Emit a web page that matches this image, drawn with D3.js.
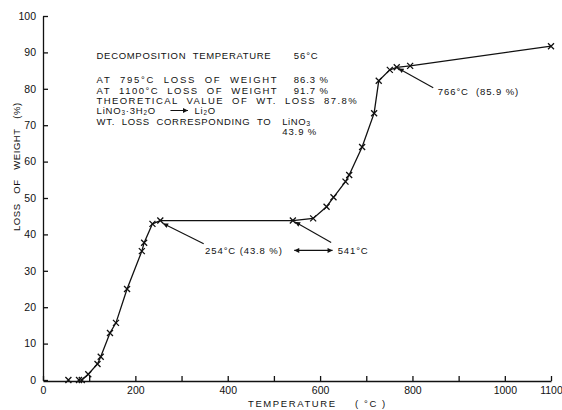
<!DOCTYPE html>
<html>
<head>
<meta charset="utf-8">
<script src="https://cdn.jsdelivr.net/npm/d3@7"></script>
<style>
  body { margin: 0; background: #fff; }
  svg { display: block; font-family: "Liberation Sans", Arial, sans-serif; }
  .axis path, .axis line { stroke: #111; stroke-width: 1.3; }
  .axis text { font-size: 10.5px; fill: #111; }
  .note { font-size: 9.5px; fill: #111; letter-spacing: 0.9px; white-space: pre; }
</style>
</head>
<body>
<div id="chart"></div>
<script>
// temperature (deg C) and loss of weight (%)
var temps = [55, 78, 84, 98, 118, 125, 145, 158, 182, 214, 219, 237, 254, 541, 585, 614, 629, 655, 663, 691, 717, 727, 751, 766, 795, 1100];
var losses = [0, 0, 0, 1.6, 4.4, 6.4, 12.9, 15.7, 25.0, 35.4, 37.7, 42.9, 43.8, 43.8, 44.4, 47.6, 50.2, 54.5, 56.3, 64.0, 73.3, 82.2, 85.2, 85.9, 86.3, 91.7];

var xTicks = [0, 100, 200, 300, 400, 500, 600, 700, 800, 900, 1000, 1100];
var xLabels = [0, 200, 400, 600, 800, 1000, 1100];
var yTicks = [0, 10, 20, 30, 40, 50, 60, 70, 80, 90, 100];

var noteLines = [
    "DECOMPOSITION  TEMPERATURE",
    "AT  795\u00B0C  LOSS  OF  WEIGHT",
    "AT  1100\u00B0C  LOSS  OF  WEIGHT",
    "THEORETICAL  VALUE  OF  WT.  LOSS  87.8%",
    "",
    "WT.  LOSS  CORRESPONDING  TO"
];
var noteWidths = [175, 181, 181, 261, 0, 175];
var noteValues = ["56\u00B0C", "86.3 %", "91.7 %"];

var width = 562, height = 410;
var margin = {top: 16, right: 11, bottom: 30, left: 43};

var svg = d3.select("#chart")
    .append("svg")
    .attr("width", width)
    .attr("height", height);

svg.append("rect").attr("width", width).attr("height", height).attr("fill", "#fff");

var x = d3.scaleLinear()
    .domain([0, 1100])
    .range([margin.left, width - margin.right]);

var y = d3.scaleLinear()
    .domain([0, 100])
    .range([height - margin.bottom, margin.top]);

var xAxis = svg.append("g")
    .attr("class", "axis")
    .attr("transform", `translate(0,${y(0) + 1})`)
    .call(d3.axisBottom(x)
        .tickValues(xTicks)
        .tickSizeInner(-5)
        .tickSizeOuter(0)
        .tickPadding(6)
        .tickFormat(d => xLabels.indexOf(d) >= 0 ? d : ""));

var yAxis = svg.append("g")
    .attr("class", "axis")
    .attr("transform", `translate(${margin.left},0)`)
    .call(d3.axisLeft(y)
        .tickValues(yTicks)
        .tickSizeInner(-5)
        .tickSizeOuter(0)
        .tickPadding(7));

// axis titles
svg.append("text")
    .attr("class", "note")
    .attr("x", 248)
    .attr("y", 407)
    .style("letter-spacing", "1.6px")
    .text("TEMPERATURE");
svg.append("text")
    .attr("class", "note")
    .attr("x", 355)
    .attr("y", 407)
    .style("letter-spacing", "1.6px")
    .text("( \u00B0C )");

svg.append("text")
    .attr("class", "note")
    .attr("transform", "translate(20,231) rotate(-90)")
    .attr("textLength", 129)
    .attr("lengthAdjust", "spacing")
    .text("LOSS   OF   WEIGHT   (%)");

// curve and markers
var pts = temps.map((t, i) => [t, losses[i]]);

var line = d3.line()
    .x(d => x(d[0]))
    .y(d => y(d[1]));

svg.append("path")
    .datum(pts.slice(2))
    .attr("fill", "none")
    .attr("stroke", "#111")
    .attr("stroke-width", 1.3)
    .attr("d", line);

svg.selectAll(".mark")
    .data(pts)
    .enter().append("path")
    .attr("class", "mark")
    .attr("transform", d => `translate(${x(d[0])},${y(d[1])})`)
    .attr("d", "M-3,-3L3,3M-3,3L3,-3")
    .attr("stroke", "#111")
    .attr("stroke-width", 1.3);

// arrowheads
var defs = svg.append("defs");
defs.append("marker")
    .attr("id", "arr")
    .attr("viewBox", "0 0 10 10")
    .attr("refX", 10).attr("refY", 5)
    .attr("markerWidth", 7).attr("markerHeight", 5)
    .attr("markerUnits", "userSpaceOnUse")
    .attr("orient", "auto-start-reverse")
    .append("path")
    .attr("d", "M0,0L10,5L0,10z")
    .attr("fill", "#111");

// text block
var tx = x(116);
var rows = [59, 83, 94, 103.5, 113.5, 124.5];
noteLines.forEach((s, i) => {
    if (!s) return;
    svg.append("text").attr("class", "note")
        .attr("x", tx).attr("y", rows[i])
        .attr("textLength", noteWidths[i])
        .attr("lengthAdjust", "spacing")
        .text(s);
});
noteValues.forEach((s, i) => {
    svg.append("text").attr("class", "note")
        .attr("x", x(543)).attr("y", rows[i]).text(s);
});

var chem = svg.append("text").attr("class", "note")
    .attr("x", tx).attr("y", rows[4])
    .attr("font-size", "7.8px").style("letter-spacing", "0.8px");
chem.append("tspan").text("LiNO");
chem.append("tspan").attr("dy", 1.2).attr("font-size", "6.3px").text("3");
chem.append("tspan").attr("dy", -1.2).text("\u00B73H");
chem.append("tspan").attr("dy", 1.2).attr("font-size", "6.3px").text("2");
chem.append("tspan").attr("dy", -1.2).text("O");
svg.append("line")
    .attr("x1", x(276)).attr("y1", rows[4] - 3)
    .attr("x2", x(314)).attr("y2", rows[4] - 3)
    .attr("stroke", "#111").attr("stroke-width", 1)
    .attr("marker-end", "url(#arr)");
var chem2 = svg.append("text").attr("class", "note")
    .attr("x", x(328)).attr("y", rows[4])
    .attr("font-size", "7.8px").style("letter-spacing", "0.8px");
chem2.append("tspan").text("Li");
chem2.append("tspan").attr("dy", 1.2).attr("font-size", "6.3px").text("2");
chem2.append("tspan").attr("dy", -1.2).text("O");

var chem3 = svg.append("text").attr("class", "note")
    .attr("x", x(518)).attr("y", rows[5]).style("letter-spacing", "0.6px");
chem3.append("tspan").text("LiNO");
chem3.append("tspan").attr("dy", 1.5).attr("font-size", "7px").text("3");
svg.append("text").attr("class", "note")
    .attr("x", x(518)).attr("y", 135).text("43.9 %");

// point callouts
function arrow(t0, l0, t1, l1, both) {
    svg.append("line")
        .attr("x1", x(t0)).attr("y1", y(l0))
        .attr("x2", x(t1)).attr("y2", y(l1))
        .attr("stroke", "#111").attr("stroke-width", 1.1)
        .attr("marker-end", "url(#arr)")
        .attr("marker-start", both ? "url(#arr)" : null);
}

svg.append("text").attr("class", "note")
    .attr("x", x(351)).attr("y", 254).text("254\u00B0C (43.8 %)");
arrow(348, 37.4, 260, 43.0);

svg.append("text").attr("class", "note")
    .attr("x", x(638)).attr("y", 254).text("541\u00B0C");
arrow(544, 35.6, 627, 35.6, true);
arrow(624, 37.8, 546, 43.4);

svg.append("text").attr("class", "note")
    .attr("x", x(855)).attr("y", 95).text("766\u00B0C  (85.9 %)");
arrow(845, 80.3, 770, 85.6);
</script>
</body>
</html>
